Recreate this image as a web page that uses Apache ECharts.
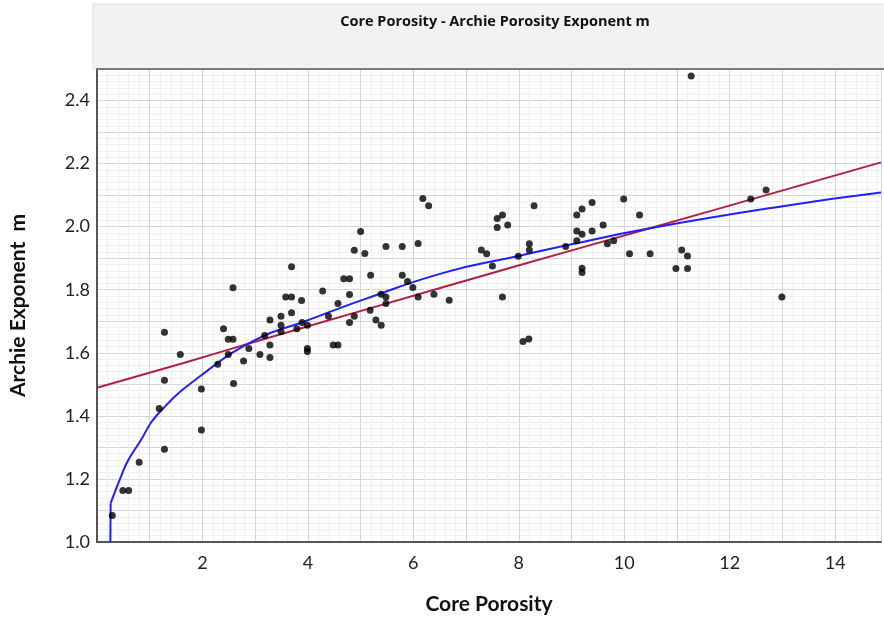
<!DOCTYPE html>
<html>
<head>
<meta charset="utf-8">
<script src="https://cdn.jsdelivr.net/npm/echarts@6/dist/echarts.min.js"></script>
<style>
  html, body { margin: 0; padding: 0; background: #ffffff; }
  #chart { width: 884px; height: 620px; }
</style>
</head>
<body>
<div id="chart"></div>
<script>
// Core plug measurements: porosity vs. Archie cementation exponent m
const porosity = [
  5.00, 4.88, 5.08, 5.48, 3.69, 4.68, 4.79, 5.19, 2.58, 3.58,
  3.69, 3.88, 4.28, 4.79, 4.57, 5.39, 5.48, 5.48,
  1.28, 2.40, 2.49, 2.58, 1.58, 2.49, 2.29, 2.78, 2.88, 3.09,
  3.18, 3.28, 3.28, 3.28, 3.49, 3.49, 3.49, 3.69, 3.89, 3.79,
  3.99, 3.99, 3.99, 4.39, 4.79, 4.88, 4.48, 4.57, 5.18, 5.29,
  5.39, 1.28, 1.98, 1.18, 1.98, 1.28, 0.80, 0.49, 0.60, 0.29,
  2.59,
  6.18, 6.29, 5.79, 6.09, 5.79, 5.89, 5.99, 6.09, 6.39, 6.68,
  7.29, 7.39, 7.50, 7.59, 7.69, 7.59, 7.79, 7.69, 7.99, 8.20,
  8.20, 8.29, 8.08, 8.19, 8.89, 9.10, 9.20, 9.39, 9.10, 9.20,
  9.10, 9.39, 9.60, 9.68, 9.80, 9.20, 9.20, 9.99, 10.29, 10.10,
  10.49,
  11.27, 11.09, 11.20, 10.98, 11.20, 12.40, 12.69, 12.99
];
const exponentM = [
  1.985, 1.925, 1.915, 1.937, 1.873, 1.835, 1.835, 1.846, 1.806, 1.777,
  1.777, 1.766, 1.796, 1.785, 1.756, 1.786, 1.777, 1.756,
  1.665, 1.676, 1.643, 1.643, 1.595, 1.595, 1.564, 1.574, 1.614, 1.595,
  1.655, 1.704, 1.625, 1.585, 1.716, 1.687, 1.667, 1.727, 1.696, 1.676,
  1.687, 1.614, 1.604, 1.716, 1.696, 1.716, 1.625, 1.625, 1.735, 1.704,
  1.687, 1.513, 1.485, 1.423, 1.355, 1.294, 1.253, 1.163, 1.163, 1.084,
  1.503,
  2.089, 2.066, 1.937, 1.947, 1.846, 1.826, 1.807, 1.777, 1.786, 1.767,
  1.926, 1.914, 1.875, 2.026, 2.037, 1.997, 2.005, 1.777, 1.906, 1.946,
  1.926, 2.066, 1.636, 1.644, 1.937, 2.037, 2.056, 2.077, 1.986, 1.976,
  1.955, 1.986, 2.005, 1.946, 1.955, 1.868, 1.855, 2.088, 2.037, 1.914,
  1.914,
  2.478, 1.926, 1.907, 1.867, 1.867, 2.088, 2.116, 1.777
];

// Curved trend (blue): a short vertical stem, then the bending curve
const curveStemX = [0.253, 0.259];
const curveStemM = [1.0, 1.123];
const curveFitX = [0.259, 0.467, 0.594, 0.813, 1.150, 1.973, 3.013, 3.894, 5.092, 6.605, 7.991, 9.0, 10.386, 13.006, 14.87];
const curveFitM = [1.123, 1.213, 1.260, 1.318, 1.405, 1.528, 1.642, 1.697, 1.771, 1.855, 1.907, 1.944, 1.992, 2.065, 2.108];

// Straight trend (red)
const lineFitX = [0, 1.626, 3.013, 5.092, 7.991, 10.386, 13.006, 14.87];
const lineFitM = [1.489, 1.567, 1.636, 1.737, 1.877, 1.990, 2.115, 2.204];

// Tick labels shown on each axis
const xTickLabels = [2, 4, 6, 8, 10, 12, 14];
const yTickLabels = ['1.0', '1.2', '1.4', '1.6', '1.8', '2.0', '2.2', '2.4'];

const FONT = 'Lato, "Open Sans", sans-serif';
const BLUE = '#1f1fff';

const zip = (xs, ys) => xs.map((x, i) => [x, ys[i]]);

const chart = echarts.init(document.getElementById('chart'), null, { renderer: 'canvas' });

chart.setOption({
  backgroundColor: '#ffffff',
  animation: false,
  title: {
    text: 'Core Porosity - Archie Porosity Exponent m',
    left: 490,
    top: 9,
    textAlign: 'center',
    textStyle: { fontFamily: '"Open Sans", Lato, sans-serif', fontSize: 14.5, fontWeight: 'bold', color: '#111' }
  },
  graphic: [
    {
      type: 'rect', z: -10, silent: true,
      shape: { x: 93, y: 4, width: 800, height: 65 },
      style: { fill: '#f2f2f2', stroke: '#e2e2e2', lineWidth: 1 }
    },
    {
      type: 'line', z: 100, silent: true,
      shape: { x1: 96, y1: 69, x2: 884, y2: 69 },
      style: { stroke: '#7a7a7a', lineWidth: 2 }
    }
  ],
  grid: { left: 97, top: 69, right: 0, bottom: 76, containLabel: false },
  xAxis: {
    type: 'value',
    min: 0,
    max: 14.87,
    interval: 1,
    name: 'Core Porosity',
    nameLocation: 'middle',
    nameGap: 52,
    nameTextStyle: { fontFamily: FONT, fontSize: 21, fontWeight: 'bold', color: '#111' },
    axisLine: { show: true, onZero: false, lineStyle: { color: '#555', width: 2 } },
    axisTick: { show: false },
    minorTick: { show: false, splitNumber: 5 },
    axisLabel: {
      margin: 12,
      fontFamily: FONT, fontSize: 18, color: '#222',
      formatter: v => (xTickLabels.includes(Math.round(v)) && Math.abs(v - Math.round(v)) < 1e-6) ? String(Math.round(v)) : ''
    },
    splitLine: { show: true, lineStyle: { color: '#d6d6d6', width: 1 } },
    minorSplitLine: { show: true, lineStyle: { color: '#efefef', width: 1 } }
  },
  yAxis: {
    type: 'value',
    min: 1.0,
    max: 2.5,
    interval: 0.1,
    name: 'Archie Exponent  m',
    nameLocation: 'middle',
    nameGap: 68,
    nameTextStyle: { fontFamily: FONT, fontSize: 21, fontWeight: 'bold', color: '#111' },
    axisLine: { show: true, lineStyle: { color: '#555', width: 2 } },
    axisTick: { show: false },
    minorTick: { show: false, splitNumber: 5 },
    axisLabel: {
      margin: 7,
      fontFamily: FONT, fontSize: 18, color: '#222',
      formatter: v => { const s = v.toFixed(1); return yTickLabels.includes(s) ? s : ''; }
    },
    splitLine: { show: true, lineStyle: { color: '#d6d6d6', width: 1 } },
    minorSplitLine: { show: true, lineStyle: { color: '#efefef', width: 1 } }
  },
  series: [
    {
      name: 'Linear trend',
      type: 'line',
      data: zip(lineFitX, lineFitM),
      smooth: true,
      symbol: 'none',
      lineStyle: { color: '#b3203f', width: 2 },
      z: 3
    },
    {
      name: 'Curved trend stem',
      type: 'line',
      data: zip(curveStemX, curveStemM),
      symbol: 'none',
      lineStyle: { color: BLUE, width: 2 },
      z: 4
    },
    {
      name: 'Curved trend',
      type: 'line',
      data: zip(curveFitX, curveFitM),
      smooth: 0.5,
      symbol: 'none',
      lineStyle: { color: BLUE, width: 2 },
      z: 4
    },
    {
      name: 'Core data',
      type: 'scatter',
      data: zip(porosity, exponentM),
      symbol: 'circle',
      symbolSize: 7,
      itemStyle: { color: '#000000' },
      z: 5
    }
  ]
});
</script>
</body>
</html>
